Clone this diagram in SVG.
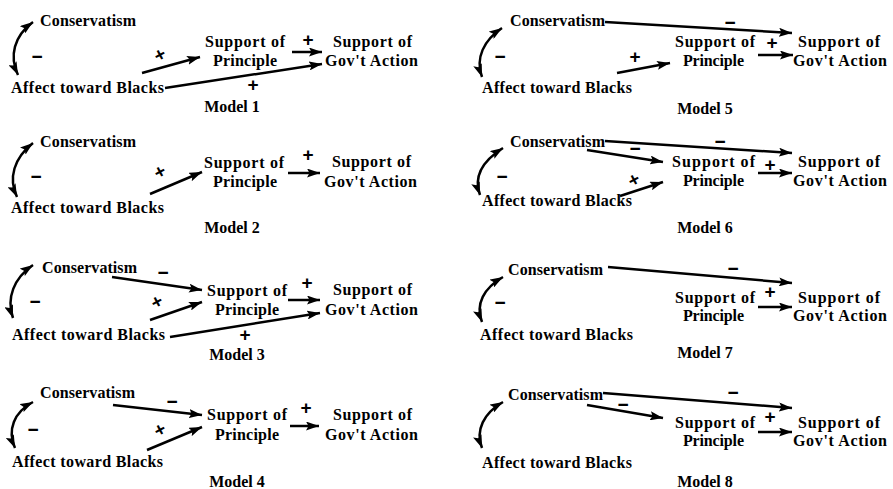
<svg xmlns="http://www.w3.org/2000/svg" width="893" height="489" viewBox="0 0 893 489">
  <defs>
    <marker id="ah" markerUnits="userSpaceOnUse" markerWidth="14" markerHeight="9" refX="13" refY="4.5" orient="auto-start-reverse">
      <path d="M0,0 L13,4.5 L0,9 L2.5,4.5 z" fill="#000"/>
    </marker>
    <style>
      text { font-family: "Liberation Serif", "Times New Roman", serif; font-weight: bold; fill: #000; }
      .lbl { font-size: 16px; }
      .ttl { font-size: 16px; text-anchor: middle; }
      .sg { font-family: "Liberation Sans", Arial, sans-serif; font-size: 19px; text-anchor: middle; }
      .ln { stroke: #000; stroke-width: 2.5; fill: none; marker-end: url(#ah); }
      .cv { stroke: #000; stroke-width: 2.5; fill: none; marker-start: url(#ah); marker-end: url(#ah); }
    </style>
  </defs>
  <rect width="893" height="489" fill="#fff"/>

  <!-- ===== Model 1 ===== -->
  <g id="model1">
    <g id="m1-cons"><text class="lbl" x="40" y="26" textLength="96">Conservatism</text></g>
    <g id="m1-affect"><text class="lbl" x="11" y="93" textLength="153">Affect toward Blacks</text></g>
    <g id="m1-principle"><text class="lbl" x="205" y="47" textLength="80">Support of</text><text class="lbl" x="213" y="66" textLength="64">Principle</text></g>
    <g id="m1-gov"><text class="lbl" x="333" y="47" textLength="79">Support of</text><text class="lbl" x="325" y="66" textLength="93">Gov't Action</text></g>
    <text class="ttl" x="232" y="112">Model 1</text>
    <g id="m1-connectors">
      <path class="cv" d="M18,75 C9,56 14,36 33,22"/>
      <path class="ln" d="M142,73 L200,57"/>
      <path class="ln" d="M165,88 L322,64"/>
      <path class="ln" d="M292,52 L322,52"/>
      <text class="sg" x="37" y="63">−</text>
      <text class="sg" x="0" y="6" transform="translate(160,55) rotate(-28)">+</text>
      <text class="sg" x="253" y="91">+</text>
      <text class="sg" x="308" y="46">+</text>
    </g>
  </g>

  <!-- ===== Model 2 ===== -->
  <g id="model2">
    <g id="m2-cons"><text class="lbl" x="40" y="147" textLength="96">Conservatism</text></g>
    <g id="m2-affect"><text class="lbl" x="11" y="213" textLength="153">Affect toward Blacks</text></g>
    <g id="m2-principle"><text class="lbl" x="204" y="168" textLength="80">Support of</text><text class="lbl" x="213" y="187" textLength="64">Principle</text></g>
    <g id="m2-gov"><text class="lbl" x="332" y="167" textLength="79">Support of</text><text class="lbl" x="324" y="187" textLength="93">Gov't Action</text></g>
    <text class="ttl" x="232" y="233">Model 2</text>
    <g id="m2-connectors">
      <path class="cv" d="M17,197 C8,178 14,158 33,143"/>
      <path class="ln" d="M150,194 L202,172"/>
      <path class="ln" d="M288,173 L320,173"/>
      <text class="sg" x="36" y="183">−</text>
      <text class="sg" x="0" y="6" transform="translate(160,172) rotate(-28)">+</text>
      <text class="sg" x="308" y="161">+</text>
    </g>
  </g>

  <!-- ===== Model 3 ===== -->
  <g id="model3">
    <g id="m3-cons"><text class="lbl" x="42" y="273" textLength="95">Conservatism</text></g>
    <g id="m3-affect"><text class="lbl" x="12" y="340" textLength="153">Affect toward Blacks</text></g>
    <g id="m3-principle"><text class="lbl" x="207" y="296" textLength="80">Support of</text><text class="lbl" x="215" y="315" textLength="64">Principle</text></g>
    <g id="m3-gov"><text class="lbl" x="333" y="295" textLength="79">Support of</text><text class="lbl" x="325" y="315" textLength="93">Gov't Action</text></g>
    <text class="ttl" x="237" y="360">Model 3</text>
    <g id="m3-connectors">
      <path class="cv" d="M13,318 C6,298 14,278 33,265"/>
      <path class="ln" d="M112,277 L202,290"/>
      <path class="ln" d="M150,320 L202,302"/>
      <path class="ln" d="M170,337 L320,313"/>
      <path class="ln" d="M288,300 L320,300"/>
      <text class="sg" x="35" y="308">−</text>
      <text class="sg" x="163" y="279">−</text>
      <text class="sg" x="0" y="6" transform="translate(157,302) rotate(-28)">+</text>
      <text class="sg" x="245" y="341">+</text>
      <text class="sg" x="307" y="289">+</text>
    </g>
  </g>

  <!-- ===== Model 4 ===== -->
  <g id="model4">
    <g id="m4-cons"><text class="lbl" x="40" y="398" textLength="95">Conservatism</text></g>
    <g id="m4-affect"><text class="lbl" x="12" y="467" textLength="151">Affect toward Blacks</text></g>
    <g id="m4-principle"><text class="lbl" x="207" y="420" textLength="80">Support of</text><text class="lbl" x="215" y="440" textLength="64">Principle</text></g>
    <g id="m4-gov"><text class="lbl" x="333" y="420" textLength="79">Support of</text><text class="lbl" x="325" y="440" textLength="93">Gov't Action</text></g>
    <text class="ttl" x="237" y="487">Model 4</text>
    <g id="m4-connectors">
      <path class="cv" d="M15,448 C7,430 14,412 33,402"/>
      <path class="ln" d="M113,405 L202,415"/>
      <path class="ln" d="M147,450 L202,427"/>
      <path class="ln" d="M290,426 L319,426"/>
      <text class="sg" x="33" y="436">−</text>
      <text class="sg" x="172" y="408">−</text>
      <text class="sg" x="0" y="6" transform="translate(160,430) rotate(-28)">+</text>
      <text class="sg" x="306" y="414">+</text>
    </g>
  </g>

  <!-- ===== Model 5 ===== -->
  <g id="model5">
    <g id="m5-cons"><text class="lbl" x="510" y="26" textLength="95">Conservatism</text></g>
    <g id="m5-affect"><text class="lbl" x="482" y="93" textLength="150">Affect toward Blacks</text></g>
    <g id="m5-principle"><text class="lbl" x="675" y="47" textLength="80">Support of</text><text class="lbl" x="683" y="66" textLength="61">Principle</text></g>
    <g id="m5-gov"><text class="lbl" x="798" y="47" textLength="82">Support of</text><text class="lbl" x="793" y="66" textLength="94">Gov't Action</text></g>
    <text class="ttl" x="705" y="114">Model 5</text>
    <g id="m5-connectors">
      <path class="ln" d="M605,22 L792,33"/>
      <path class="cv" d="M482,77 C475,58 484,40 502,28"/>
      <path class="ln" d="M617,73 L670,63"/>
      <path class="ln" d="M758,55 L793,55"/>
      <text class="sg" x="730" y="29">−</text>
      <text class="sg" x="500" y="63">−</text>
      <text class="sg" x="635" y="63">+</text>
      <text class="sg" x="772" y="49">+</text>
    </g>
  </g>

  <!-- ===== Model 6 ===== -->
  <g id="model6">
    <g id="m6-cons"><text class="lbl" x="510" y="147" textLength="95">Conservatism</text></g>
    <g id="m6-affect"><text class="lbl" x="482" y="206" textLength="150">Affect toward Blacks</text></g>
    <g id="m6-principle"><text class="lbl" x="672" y="167" textLength="83">Support of</text><text class="lbl" x="683" y="186" textLength="61">Principle</text></g>
    <g id="m6-gov"><text class="lbl" x="798" y="167" textLength="82">Support of</text><text class="lbl" x="793" y="186" textLength="94">Gov't Action</text></g>
    <text class="ttl" x="705" y="233">Model 6</text>
    <g id="m6-connectors">
      <path class="ln" d="M605,141 L792,153"/>
      <path class="ln" d="M587,150 L663,162"/>
      <path class="cv" d="M480,195 C473,176 484,160 503,148"/>
      <path class="ln" d="M620,196 L663,182"/>
      <path class="ln" d="M758,173 L792,173"/>
      <text class="sg" x="720" y="148">−</text>
      <text class="sg" x="635" y="155">−</text>
      <text class="sg" x="502" y="183">−</text>
      <text class="sg" x="0" y="6" transform="translate(634,180) rotate(-28)">+</text>
      <text class="sg" x="770" y="171">+</text>
    </g>
  </g>

  <!-- ===== Model 7 ===== -->
  <g id="model7">
    <g id="m7-cons"><text class="lbl" x="508" y="275" textLength="95">Conservatism</text></g>
    <g id="m7-affect"><text class="lbl" x="480" y="340" textLength="153">Affect toward Blacks</text></g>
    <g id="m7-principle"><text class="lbl" x="675" y="303" textLength="80">Support of</text><text class="lbl" x="683" y="321" textLength="61">Principle</text></g>
    <g id="m7-gov"><text class="lbl" x="798" y="303" textLength="82">Support of</text><text class="lbl" x="793" y="321" textLength="94">Gov't Action</text></g>
    <text class="ttl" x="705" y="358">Model 7</text>
    <g id="m7-connectors">
      <path class="ln" d="M608,267 L792,283"/>
      <path class="cv" d="M482,322 C475,304 484,288 503,277"/>
      <path class="ln" d="M758,307 L792,307"/>
      <text class="sg" x="733" y="275">−</text>
      <text class="sg" x="500" y="309">−</text>
      <text class="sg" x="770" y="298">+</text>
    </g>
  </g>

  <!-- ===== Model 8 ===== -->
  <g id="model8">
    <g id="m8-cons"><text class="lbl" x="508" y="400" textLength="95">Conservatism</text></g>
    <g id="m8-affect"><text class="lbl" x="482" y="468" textLength="150">Affect toward Blacks</text></g>
    <g id="m8-principle"><text class="lbl" x="675" y="428" textLength="80">Support of</text><text class="lbl" x="683" y="446" textLength="61">Principle</text></g>
    <g id="m8-gov"><text class="lbl" x="798" y="428" textLength="82">Support of</text><text class="lbl" x="793" y="446" textLength="94">Gov't Action</text></g>
    <text class="ttl" x="705" y="487">Model 8</text>
    <g id="m8-connectors">
      <path class="ln" d="M603,393 L792,408"/>
      <path class="ln" d="M587,405 L663,418"/>
      <path class="cv" d="M482,448 C475,430 484,413 503,402"/>
      <path class="ln" d="M758,432 L792,432"/>
      <text class="sg" x="733" y="399">−</text>
      <text class="sg" x="623" y="411">−</text>
      <text class="sg" x="770" y="423">+</text>
    </g>
  </g>
</svg>
